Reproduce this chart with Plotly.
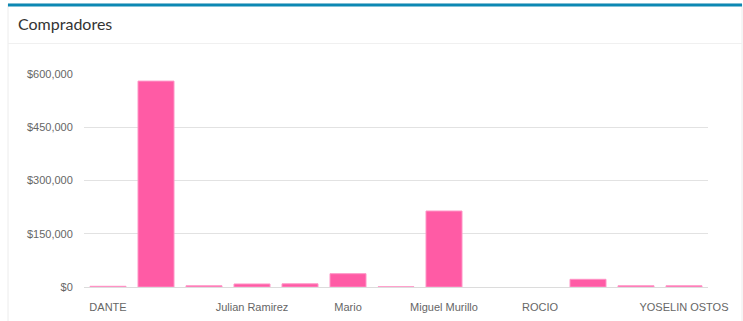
import plotly.graph_objects as go

# ---- data ----
tick_labels = ["DANTE", "", "", "Julian Ramirez", "", "Mario", "",
               "Miguel Murillo", "", "ROCIO", "", "", "YOSELIN OSTOS"]
positions = list(range(13))
values = [2000, 580000, 3500, 8500, 9000, 37500, 400,
          214000, 0, 0, 21700, 3500, 3500]
y_ticks = [0, 150000, 300000, 450000, 600000]
y_tick_text = ["$0", "$150,000", "$300,000", "$450,000", "$600,000"]
title = "Compradores"

W, H = 743, 321
L, R, T, B = 84, 708, 74, 287


def px(x):
    return (x - L) / (R - L)


def py(y):
    return (B - y) / (B - T)


fig = go.Figure()
fig.add_trace(go.Bar(
    x=positions, y=values,
    marker=dict(color="#ff5ba5",
                line=dict(color="#ff94c6",
                          width=[1 if v > 0 else 0 for v in values])),
    width=0.75,
))

shapes = [
    # card border
    dict(type="rect", xref="paper", yref="paper",
         x0=px(8), x1=px(742), y0=py(330), y1=py(4),
         line=dict(color="#ececec", width=1), fillcolor="rgba(0,0,0,0)", layer="below"),
    # separator under title
    dict(type="line", xref="paper", yref="paper",
         x0=px(8), x1=px(742), y0=py(43.5), y1=py(43.5),
         line=dict(color="#f0f0f0", width=1)),
    # top accent border
    dict(type="rect", xref="paper", yref="paper",
         x0=px(8), x1=px(742), y0=py(6.5), y1=py(3.5),
         line=dict(width=0), fillcolor="#0d88b3"),
]

fig.update_layout(
    width=W, height=H,
    margin=dict(l=L, r=W - R, t=T, b=H - B),
    paper_bgcolor="white", plot_bgcolor="white",
    showlegend=False,
    shapes=shapes,
    annotations=[dict(text=title, xref="paper", yref="paper",
                      x=px(16), y=py(23), xanchor="left", yanchor="middle",
                      showarrow=False,
                      font=dict(family="Lato", size=16, color="#333333"))],
    xaxis=dict(
        range=[-0.5, 12.5], tickmode="array", tickvals=positions,
        ticktext=tick_labels, tickangle=0, automargin=False,
        showgrid=False, zeroline=False,
        showline=True, linecolor="#dcdcdc", linewidth=1,
        ticks="outside", ticklen=10, tickcolor="rgba(0,0,0,0)",
        tickfont=dict(family="Liberation Sans", size=11, color="#666666"),
    ),
    yaxis=dict(
        range=[0, 600000], tickmode="array", tickvals=y_ticks,
        ticktext=y_tick_text, automargin=False,
        showgrid=True, gridcolor="#e2e2e2", gridwidth=1,
        zeroline=False, showline=False,
        ticks="outside", ticklen=8, tickcolor="rgba(0,0,0,0)",
        tickfont=dict(family="Liberation Sans", size=11, color="#666666"),
    ),
)

fig.write_html("out.html")
